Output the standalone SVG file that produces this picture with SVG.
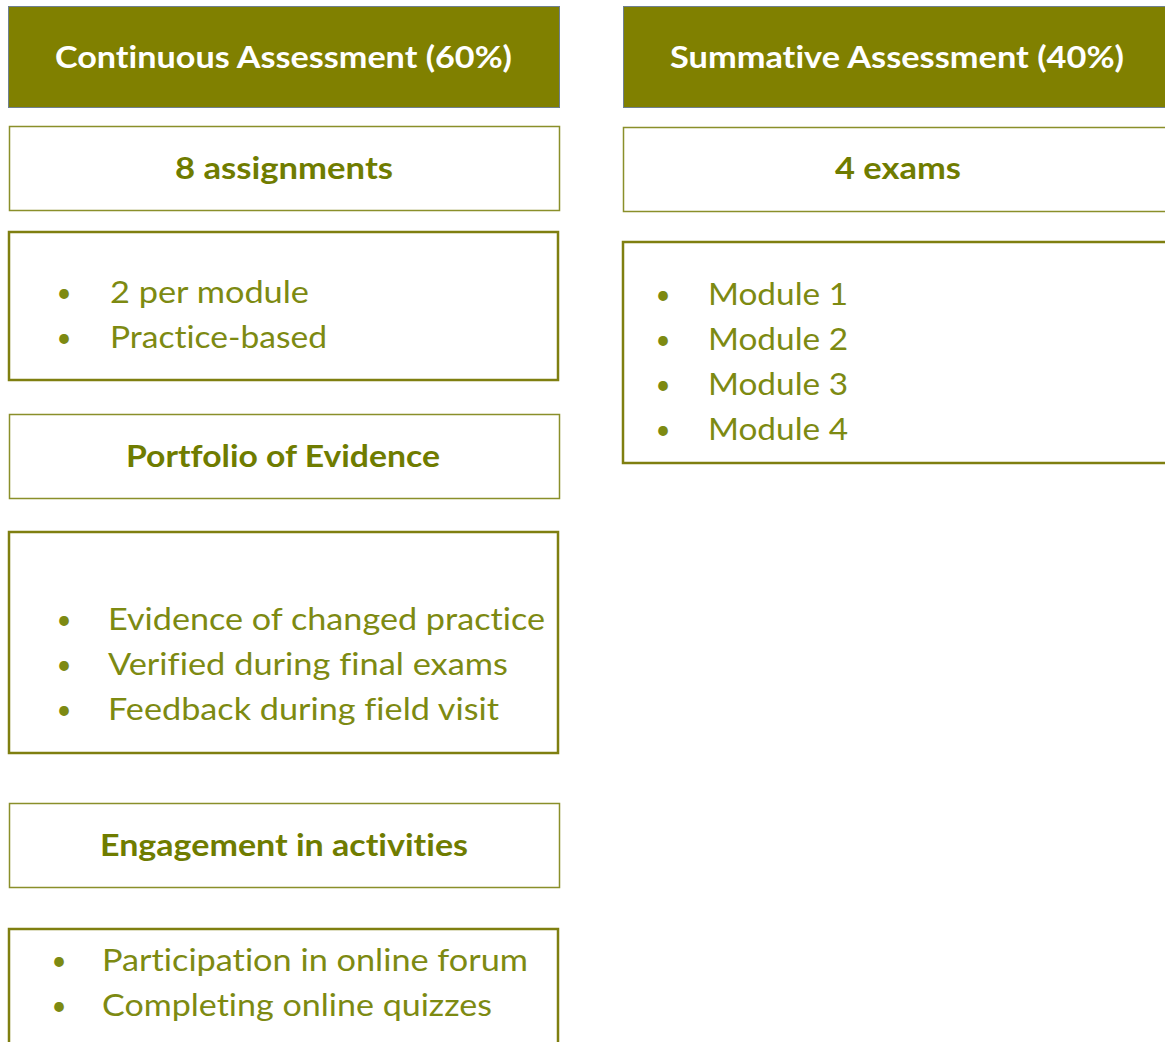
<svg xmlns="http://www.w3.org/2000/svg" width="1165" height="1042" viewBox="0 0 1165 1042">
<style>
.hdr{fill:#808000;stroke:#6f8090;stroke-width:1}
.sub{fill:#ffffff;stroke:#8a8f2a;stroke-width:1.5}
.lst{fill:#ffffff;stroke:#7f7f10;stroke-width:2.5}
text{font-family:Lato,"Open Sans","Liberation Sans",sans-serif;font-variant-ligatures:none;font-feature-settings:"liga" 0}
.ht{fill:#ffffff;font-weight:bold;font-size:31px}
.st{fill:#6f7c00;font-weight:bold;font-size:30px}
.bt{fill:#7d8a12;font-size:31px}
.bu{fill:#7d8a12;font-size:26px;text-anchor:middle}
</style>
<rect width="1165" height="1042" fill="#ffffff"/>
<g id="connectors"/>
<g id="node-continuous">
<rect class="hdr" x="8.5" y="6.5" width="551" height="101"/>
<text class="ht" x="55" y="68" textLength="457" lengthAdjust="spacingAndGlyphs">Continuous Assessment (60%)</text>
</g>
<g id="node-assignments">
<rect class="sub" x="9.5" y="126.5" width="550" height="84"/>
<text class="st" x="175" y="179" textLength="218" lengthAdjust="spacingAndGlyphs">8 assignments</text>
</g>
<g id="node-assignments-list">
<rect class="lst" x="9" y="232" width="549" height="148"/>
<text class="bu" x="64" y="302">•</text>
<text class="bt" x="110" y="303" textLength="199" lengthAdjust="spacingAndGlyphs">2 per module</text>
<text class="bu" x="64" y="347">•</text>
<text class="bt" x="110" y="348" textLength="217" lengthAdjust="spacingAndGlyphs">Practice-based</text>
</g>
<g id="node-portfolio">
<rect class="sub" x="9.5" y="414.5" width="550" height="84"/>
<text class="st" x="126" y="467" textLength="314" lengthAdjust="spacingAndGlyphs">Portfolio of Evidence</text>
</g>
<g id="node-portfolio-list">
<rect class="lst" x="9" y="532" width="549" height="221"/>
<text class="bu" x="64" y="629">•</text>
<text class="bt" x="108" y="630" textLength="437" lengthAdjust="spacingAndGlyphs">Evidence of changed practice</text>
<text class="bu" x="64" y="674">•</text>
<text class="bt" x="108" y="675" textLength="400" lengthAdjust="spacingAndGlyphs">Verified during final exams</text>
<text class="bu" x="64" y="719">•</text>
<text class="bt" x="108" y="720" textLength="391" lengthAdjust="spacingAndGlyphs">Feedback during field visit</text>
</g>
<g id="node-engagement">
<rect class="sub" x="9.5" y="803.5" width="550" height="84"/>
<text class="st" x="100" y="856" textLength="368" lengthAdjust="spacingAndGlyphs">Engagement in activities</text>
</g>
<g id="node-engagement-list">
<rect class="lst" x="9" y="929" width="549" height="120"/>
<text class="bu" x="59" y="970">•</text>
<text class="bt" x="102" y="971" textLength="426" lengthAdjust="spacingAndGlyphs">Participation in online forum</text>
<text class="bu" x="59" y="1015">•</text>
<text class="bt" x="102" y="1016" textLength="390" lengthAdjust="spacingAndGlyphs">Completing online quizzes</text>
</g>
<g id="node-summative">
<rect class="hdr" x="623.5" y="6.5" width="550" height="101"/>
<text class="ht" x="670" y="68" textLength="454" lengthAdjust="spacingAndGlyphs">Summative Assessment (40%)</text>
</g>
<g id="node-exams">
<rect class="sub" x="623.5" y="127.5" width="550" height="84"/>
<text class="st" x="835" y="179" textLength="126" lengthAdjust="spacingAndGlyphs">4 exams</text>
</g>
<g id="node-exams-list">
<rect class="lst" x="623" y="242" width="550" height="221"/>
<text class="bu" x="663" y="304">•</text>
<text class="bt" x="708" y="305" textLength="140" lengthAdjust="spacingAndGlyphs">Module 1</text>
<text class="bu" x="663" y="349">•</text>
<text class="bt" x="708" y="350" textLength="140" lengthAdjust="spacingAndGlyphs">Module 2</text>
<text class="bu" x="663" y="394">•</text>
<text class="bt" x="708" y="395" textLength="140" lengthAdjust="spacingAndGlyphs">Module 3</text>
<text class="bu" x="663" y="439">•</text>
<text class="bt" x="708" y="440" textLength="140" lengthAdjust="spacingAndGlyphs">Module 4</text>
</g>
</svg>
